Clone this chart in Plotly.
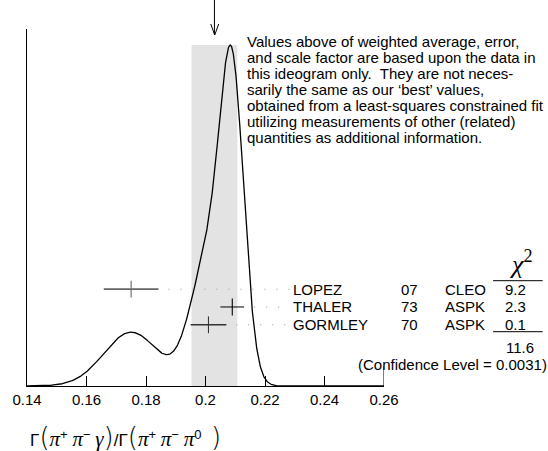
import numpy as np
import plotly.graph_objects as go

# ---- data ----
names = ["LOPEZ", "THALER", "GORMLEY"]
years = ["07", "73", "70"]
experiments = ["CLEO", "ASPK", "ASPK"]
values = [0.175, 0.209, 0.201]
errors = [0.0092, 0.004, 0.006]
chi2 = ["9.2", "2.3", "0.1"]
chi2_total = "11.6"
conf_level = "0.0031"
avg_value = 0.203
avg_error = 0.0077
xticks = [0.14, 0.16, 0.18, 0.2, 0.22, 0.24, 0.26]
note_lines = [
    "Values above of weighted average, error,",
    "and scale factor are based upon the data in",
    "this ideogram only.  They are not neces-",
    "sarily the same as our \u2018best\u2019 values,",
    "obtained from a least-squares constrained fit",
    "utilizing measurements of other (related)",
    "quantities as additional information.",
]

# ---- layout geometry (pixels) ----
W, H = 548, 451
L, R, T, B = 24, 164, 29, 65
PW, PH = W - L - R, H - T - B
XMIN, XMAX = 0.14, 0.26
PAD = 3  # annotation inner padding


def px_x(px):
    return (px - L) / PW


def px_y(py):
    return (H - B - py) / PH


FONT = "Liberation Sans, Arial, Helvetica, sans-serif"

# ideogram curve: each measurement a Gaussian of width = error, area ~ 1/error
xs = np.linspace(XMIN, XMAX, 1201)
curve = np.zeros_like(xs)
for v, e in zip(values, errors):
    curve += (1.0 / e) * np.exp(-0.5 * ((xs - v) / e) ** 2) / (e * np.sqrt(2 * np.pi))
peak = curve.max()
ymax = peak * PH / (H - B - 45)

fig = go.Figure()

# shaded weighted-average band
fig.add_shape(type="rect", xref="x", yref="y",
              x0=avg_value - avg_error, x1=avg_value + avg_error, y0=0, y1=peak,
              fillcolor="#e3e3e3", line=dict(width=0), layer="below")

fig.add_trace(go.Scatter(x=xs, y=curve, mode="lines",
                         line=dict(color="black", width=1.3),
                         hoverinfo="skip", showlegend=False))

# rows on a secondary axis (row units)
row_pos = [3, 2, 1]
bar_colors = ["#666666", "#000000", "#333333"]
bar_widths = [1.8, 1.0, 1.4]
name_px = 293
for i in range(len(names)):
    fig.add_trace(go.Scatter(
        x=[values[i]], y=[row_pos[i]], yaxis="y2", mode="markers",
        marker=dict(symbol="line-ns", size=12,
                    line=dict(color=bar_colors[i], width=1.1)),
        error_x=dict(type="data", array=[errors[i]], width=0,
                     thickness=bar_widths[i], color=bar_colors[i]),
        hoverinfo="skip", showlegend=False))
    x_start = values[i] + errors[i] + 10 * (XMAX - XMIN) / PW
    x_end = XMIN + (name_px - 4 - L) * (XMAX - XMIN) / PW
    fig.add_trace(go.Scatter(
        x=[x_start, x_end], y=[row_pos[i], row_pos[i]], yaxis="y2", mode="lines",
        line=dict(color="#999999", width=1, dash="1px,11px"),
        hoverinfo="skip", showlegend=False))

ann = []
tf = dict(family=FONT, size=15, color="black")
for i in range(len(names)):
    ann.append(dict(text=names[i], xref="paper", yref="y2", x=px_x(name_px - PAD), y=row_pos[i],
                    xanchor="left", yanchor="middle", showarrow=False, font=tf))
    ann.append(dict(text=years[i], xref="paper", yref="y2", x=px_x(410), y=row_pos[i],
                    xanchor="center", yanchor="middle", showarrow=False, font=tf))
    ann.append(dict(text=experiments[i], xref="paper", yref="y2", x=px_x(446 - PAD), y=row_pos[i],
                    xanchor="left", yanchor="middle", showarrow=False, font=tf))
    ann.append(dict(text=chi2[i], xref="paper", yref="y2", x=px_x(517), y=row_pos[i],
                    xanchor="center", yanchor="middle", showarrow=False, font=tf))

ann.append(dict(text="<i>\u03c7</i><sup>2</sup>", xref="paper", yref="paper", x=px_x(522),
                y=px_y(262), xanchor="center", yanchor="middle", showarrow=False,
                font=dict(family="Liberation Serif, serif", size=26, color="black")))
ann.append(dict(text=chi2_total, xref="paper", yref="paper", x=px_x(521), y=px_y(347),
                xanchor="center", yanchor="middle", showarrow=False, font=tf))
ann.append(dict(text="(Confidence Level = " + conf_level + ")", xref="paper", yref="paper",
                x=px_x(547 + PAD), y=px_y(364), xanchor="right", yanchor="middle",
                showarrow=False, font=tf))

for k, line in enumerate(note_lines):
    ann.append(dict(text=line, xref="paper", yref="paper", x=px_x(247 - PAD),
                    y=px_y(41.7 + 15.93 * k),
                    xanchor="left", yanchor="middle", showarrow=False,
                    font=dict(family=FONT, size=15, color="black")))

P_OPEN = "<span style='font-family:DejaVu Sans;font-size:26px;font-weight:200'>(</span>"
P_CLOSE = "<span style='font-family:DejaVu Sans;font-size:26px;font-weight:200'>)</span>"


def gk(c):
    return "<span style='font-family:Liberation Serif;font-style:italic;font-size:21px'>" + c + "</span>"


def sp(c):
    return "<span style='font-size:13px;baseline-shift:55%'>" + c + "</span>"


xtitle = ("\u0393" + P_OPEN + gk("\u03c0") + sp("+") + " " + gk("\u03c0") + sp("\u2212") + " "
          + gk("\u03b3") + P_CLOSE + "/\u0393" + P_OPEN + gk("\u03c0") + sp("+") + " "
          + gk("\u03c0") + sp("\u2212") + " " + gk("\u03c0") + sp("0") + "  " + P_CLOSE)
ann.append(dict(text=xtitle, xref="paper", yref="paper", x=px_x(28 - PAD), y=px_y(437),
                xanchor="left", yanchor="middle", showarrow=False,
                font=dict(family=FONT, size=17, color="black")))
fig.update_layout(annotations=ann)

shapes = [
    # chi2 rules
    dict(type="line", xref="paper", yref="paper", x0=px_x(494), x1=px_x(544),
         y0=px_y(280.7), y1=px_y(280.7), line=dict(color="black", width=1)),
    dict(type="line", xref="paper", yref="paper", x0=px_x(494), x1=px_x(544),
         y0=px_y(331.7), y1=px_y(331.7), line=dict(color="black", width=1)),
    # end tick at right of x axis
    dict(type="line", xref="x", yref="paper", x0=XMAX, x1=XMAX,
         y0=0, y1=20 / PH, line=dict(color="black", width=1)),
    # arrow marking the weighted average
    dict(type="line", xref="x", yref="paper", x0=avg_value, x1=avg_value,
         y0=px_y(0), y1=px_y(35), line=dict(color="black", width=1)),
    dict(type="path", xref="paper", yref="paper",
         path="M {a},{b} L {c},{d} L {e},{b}".format(
             a=px_x(213.3 - 4), b=px_y(24), c=px_x(213.3), d=px_y(35), e=px_x(213.3 + 4)),
         line=dict(color="black", width=1)),
]
for s in shapes:
    fig.add_shape(**s)

fig.update_layout(
    width=W, height=H,
    margin=dict(l=L, r=R, t=T, b=B),
    paper_bgcolor="white", plot_bgcolor="white",
    showlegend=False,
    xaxis=dict(range=[XMIN, XMAX], tickvals=xticks, ticktext=[f"{v:g}" for v in xticks],
               ticks="inside", ticklen=10, tickcolor="black", tickwidth=1,
               showline=True, linecolor="black", linewidth=1.2, showgrid=False,
               zeroline=False, tickfont=dict(family=FONT, size=15, color="black")),
    yaxis=dict(range=[0, ymax], showline=True, linecolor="black", linewidth=1.2,
               showticklabels=False, ticks="", showgrid=False, zeroline=False),
    yaxis2=dict(range=[-2.44, 17.62], overlaying="y", visible=False),
)

fig.write_html("out.html", config={"displayModeBar": False},
               post_script="document.body.style.margin='0';")
